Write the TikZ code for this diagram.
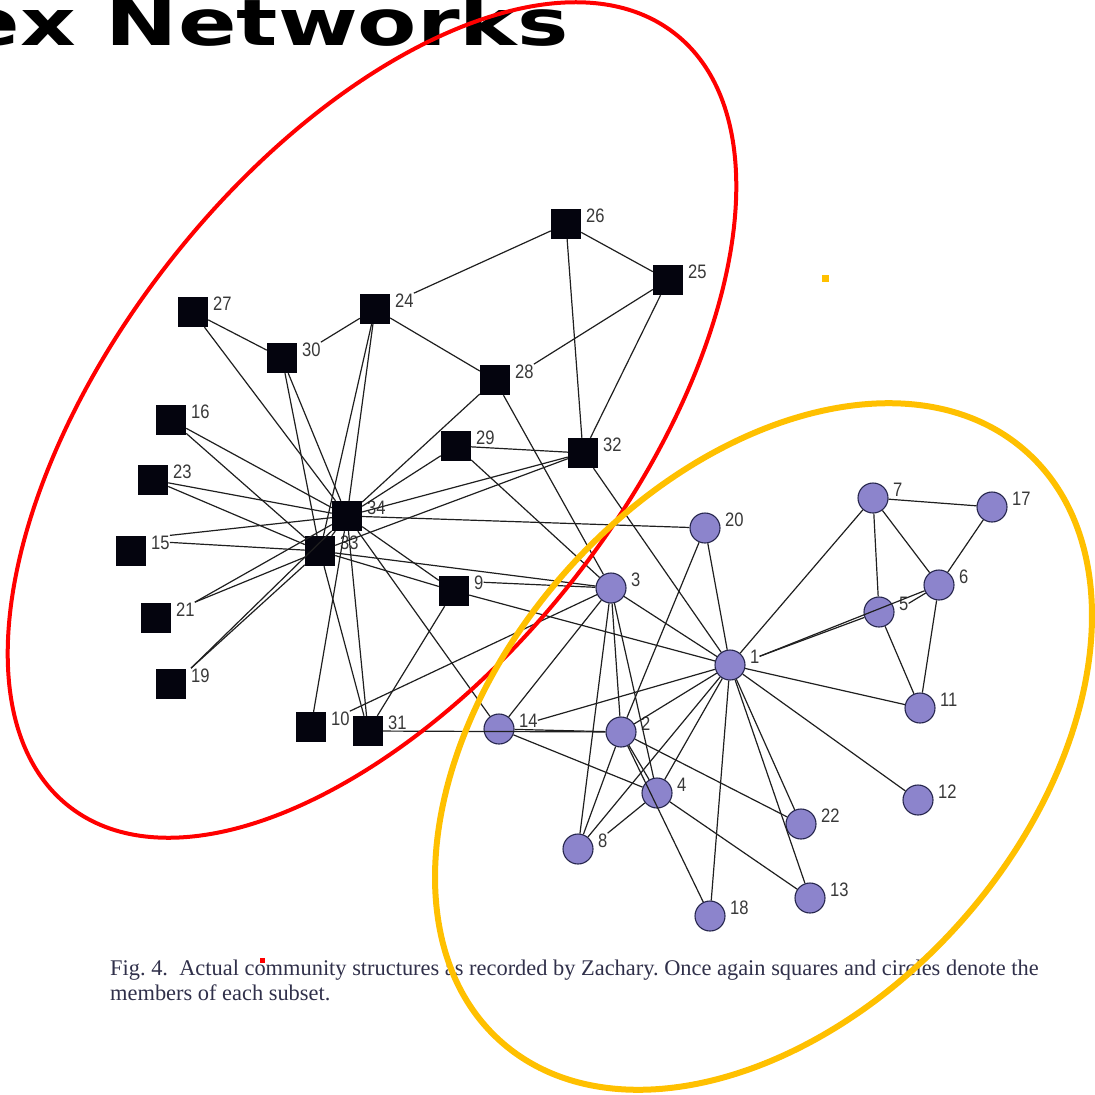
\documentclass[tikz,border=0pt]{standalone}
\usepackage{fontspec}
\setmainfont{Liberation Serif}
\newfontfamily\labfont[FakeStretch=0.85]{Liberation Sans}
\newfontfamily\titlefont{DejaVu Sans}
\definecolor{member}{HTML}{8C84CC}
\definecolor{memberrim}{HTML}{26264D}
\definecolor{officer}{HTML}{04040E}
\definecolor{clubA}{HTML}{FF0000}
\definecolor{clubB}{HTML}{FFC000}
\definecolor{capink}{HTML}{30304A}
\tikzset{
  sqnode/.style={rectangle, minimum size=30pt, inner sep=0pt, fill=officer},
  cinode/.style={circle, minimum size=30pt, inner sep=0pt, fill=member, draw=memberrim, line width=1.1pt},
  lab/.style={anchor=base west, inner sep=0pt, text=black!78, font=\labfont\fontsize{19.5}{19.5}\selectfont},
  edge/.style={draw=black!88, line width=1.2pt},
  groupA/.style={draw=clubA, line width=4pt},
  groupB/.style={draw=clubB, line width=6pt},
}
\begin{document}
\begin{tikzpicture}[x=1pt, y=-1pt]
\useasboundingbox (0,0) rectangle (1095,1095);

% title
\node[anchor=base east, inner sep=0pt] (title) at (569,45)
  {\scalebox{1.35}[1]{\titlefont\bfseries\fontsize{64}{64}\selectfont ex Networks}};

% square members
\foreach \i/\x/\y in {9/454/591, 10/311/727, 15/131/551, 16/171/420, 19/171/684,
  21/156/618, 23/153/480, 24/375/309, 25/668/280, 26/566/224, 27/193/312,
  28/495/380, 29/456/446, 30/282/358, 31/368/731, 32/583/453, 33/320/551, 34/347/516}
{
  \node[sqnode] (n\i) at (\x,\y) {};
  \node[lab] (l\i) at (\x+20,\y-2) {\i};
}

% circle members
\foreach \i/\x/\y in {1/730/665, 2/621/732, 3/611/588, 4/657/793, 5/879/612,
  6/939/585, 7/873/498, 8/578/849, 11/920/708, 12/918/800, 13/810/898,
  14/499/729, 17/992/507, 18/710/916, 20/705/528, 22/801/824}
{
  \node[cinode] (n\i) at (\x,\y) {};
  \node[lab] (l\i) at (\x+20,\y-2) {\i};
}

% ties between members
\foreach \a/\b in {1/2,1/3,1/4,1/7,1/8,1/9,1/11,1/12,1/13,1/18,1/20,1/22,1/32,
  2/3,2/4,2/8,2/14,2/18,2/20,2/22,2/31,
  3/4,3/8,3/14,3/28,3/29,3/33,
  4/13,4/14, 5/7,5/11, 6/7,6/11,6/17, 7/17,
  9/31,9/33,9/34, 10/34, 14/34, 16/33,16/34, 20/34, 23/33,23/34,
  24/28,24/33,24/34, 25/26,25/32, 26/32, 27/30,27/34, 28/34,
  29/32,29/34, 30/33,30/34, 31/33,31/34, 32/33,32/34, 33/34}
  \draw[edge] (n\a) -- (n\b);

% ties that end at a label
\draw[edge] (l1.east) -- (n5);
\draw[edge] (l1.east) -- (n6);
\draw[edge] (n6) -- (l5.east);
\draw[edge] (n1) -- (l14.east);
\draw[edge] (n3) -- (l9.east);
\draw[edge] (n3) -- (l10.north east);
\draw[edge] (n4) -- (l8.north east);
\draw[edge] (l15.east) -- (n33);
\draw[edge] (l15.north east) -- (n34);
\draw[edge] (l19.north west) -- (n33);
\draw[edge] (l19.north west) -- (n34);
\draw[edge] (l21.north east) -- (n33);
\draw[edge] (l21.north east) -- (n34);
\draw[edge] (n26) -- (l24.north east);
\draw[edge] (l30.north east) -- (n24);
\draw[edge] (n25) -- (l28.north east);

% caption
\node[anchor=base west, inner sep=0pt, text=capink,
  font=\fontsize{22.4}{25}\selectfont\frenchspacing] (cap1) at (110,975)
  {Fig.~4.\ \ Actual community structures as recorded by Zachary. Once again squares and circles denote the};
\node[anchor=base west, inner sep=0pt, text=capink,
  font=\fontsize{22.4}{25}\selectfont\frenchspacing] (cap2) at (110,1000)
  {members of each subset.};

% the two factions
\draw[groupA, shift={(372,420)}, rotate=51.9] (0,0) ellipse [x radius=491, y radius=257];
\draw[groupB, shift={(763.5,746.5)}, rotate=48.3] (0,0) ellipse [x radius=395, y radius=264];

% stray marks
\fill[clubB] (821.5,274.5) rectangle (828.5,281.5);
\fill[clubA] (259.5,957.5) rectangle (264.5,962.5);
\end{tikzpicture}
\end{document}
